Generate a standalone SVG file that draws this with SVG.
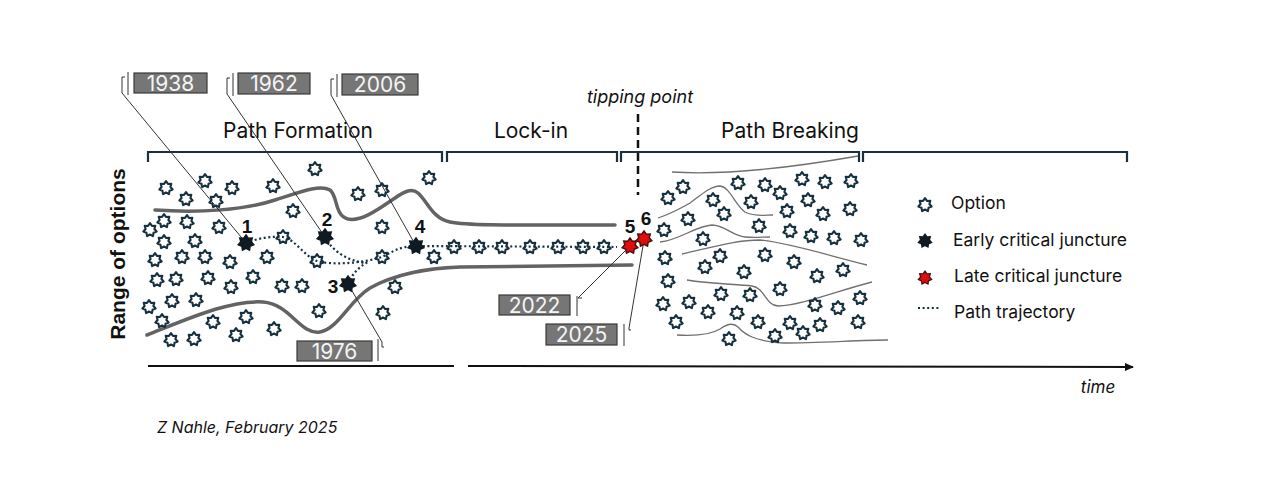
<svg xmlns="http://www.w3.org/2000/svg" xmlns:xlink="http://www.w3.org/1999/xlink" width="1280" height="489" viewBox="0 0 1280 489">
<style>
.opt{fill:none;stroke:#17303f;stroke-width:2.1;stroke-linejoin:round}
.ecj{fill:#0f1a22;stroke:#0f1a22;stroke-width:1.5}
.lcj{fill:#e30c0c;stroke:#4a1010;stroke-width:1.5}
.brk{fill:none;stroke:#1b2f3c;stroke-width:2.2}
.bnd{fill:none;stroke:#636363;stroke-width:3.5;stroke-linecap:round}
.thin{fill:none;stroke:#707070;stroke-width:1.3}
.traj{fill:none;stroke:#17303f;stroke-width:2.2;stroke-dasharray:2 2.6}
.lead{fill:none;stroke:#333;stroke-width:1}
.ybox{fill:#767676;stroke:#3a3a3a;stroke-width:1.2}
.ytxt{font-family:Inter,"Liberation Sans",sans-serif;font-size:21px;fill:#f4f4f4;text-anchor:middle}
.sec{font-family:Inter,"Liberation Sans",sans-serif;font-size:21px;fill:#111;text-anchor:middle}
.num{font-family:"Liberation Sans",Arial,sans-serif;font-weight:bold;font-size:19px;fill:#111;text-anchor:middle}
.leg{font-family:Inter,"Liberation Sans",sans-serif;font-size:17.5px;fill:#111}
.it{font-family:Inter,"Liberation Sans",sans-serif;font-style:italic;fill:#111}
</style>
<defs>
<path id="star" d="M0,-6.8 L1.95,-4.05 L5.3,-4.25 L4.4,-1 L6.65,1.5 L3.5,2.8 L2.95,6.1 L0,4.5 L-2.95,6.1 L-3.5,2.8 L-6.65,1.5 L-4.4,-1 L-5.3,-4.25 L-1.95,-4.05 Z"/>
<path id="bigstar" d="M0,-8 L2.3,-4.8 L6.25,-5 L5.2,-1.2 L7.8,1.8 L4.1,3.3 L3.5,7.2 L0,5.3 L-3.5,7.2 L-4.1,3.3 L-7.8,1.8 L-5.2,-1.2 L-6.25,-5 L-2.3,-4.8 Z"/>
<marker id="arr" markerWidth="10" markerHeight="10" refX="8" refY="5" orient="auto" markerUnits="userSpaceOnUse">
<path d="M0,1 L9,5 L0,9 Z" fill="#111"/>
</marker>
</defs>

<!-- section headers and brackets -->
<g id="headers">
<text class="sec" x="298" y="138">Path Formation</text>
<text class="sec" x="531" y="138">Lock-in</text>
<text class="sec" x="790" y="138">Path Breaking</text>
<text class="it" x="640" y="103" font-size="18" text-anchor="middle">tipping point</text>
<path class="brk" d="M148,162 V152 H442 V162"/>
<path class="brk" d="M447,162 V152 H617 V162"/>
<path class="brk" d="M621,162 V152 H859 V162"/>
<path class="brk" d="M863,162 V152 H1127 V162"/>
<line x1="638" y1="114" x2="638" y2="195" stroke="#111" stroke-width="2.5" stroke-dasharray="8 5"/>
</g>

<g id="axis">
<text x="125" y="254" transform="rotate(-90 125 254)" font-family="Liberation Sans,Arial,sans-serif" font-weight="bold" font-size="21" text-anchor="middle" fill="#111">Range of options</text>
<line x1="148" y1="366" x2="454" y2="366" stroke="#111" stroke-width="2"/>
<line x1="468" y1="366" x2="1133" y2="367" stroke="#111" stroke-width="2" marker-end="url(#arr)"/>
<text class="it" x="1098" y="393" font-size="17" text-anchor="middle">time</text>
<text class="it" x="157" y="433" font-size="16">Z Nahle, February 2025</text>
</g>

<!-- boundaries -->
<g id="boundaries">
<path class="bnd" d="M155,210 C200,213 245,210 275,200 C300,192 320,184 330,190 C338,196 334,215 348,219 C362,222 380,208 395,198 C405,191 412,188 418,193 C428,202 432,218 450,222 C470,226 520,225 615,225"/>
<path class="bnd" d="M147,335 C190,318 230,300 263,302 C290,304 300,335 320,332 C338,329 350,300 370,288 C395,274 430,268 460,267 L632,265"/>
<path class="thin" d="M672,172 C720,175 790,168 858,156"/>
<path class="thin" d="M658,218 C670,214 678,210 690,203 C700,196 710,186 720,186 C730,187 735,205 745,212 C755,217 765,215 773,215"/>
<path class="thin" d="M660,242 C680,240 695,226 712,225 C725,225 732,236 745,237 C755,238 762,237 770,237"/>
<path class="thin" d="M682,254 C710,248 735,240 760,240 C790,243 830,256 867,265"/>
<path class="thin" d="M687,280 C710,284 735,284 752,286 C765,288 765,305 778,306 C800,306 840,290 872,282"/>
<path class="thin" d="M677,335 C695,336 712,334 720,329 C727,324 733,322 738,327 C745,335 755,341 783,343 C820,343 860,340 888,340"/>
</g>

<!-- trajectory -->
<g id="connectors">
<path class="traj" d="M246,243 C258,238 272,236 283,237 C296,240 304,256 317,261 C330,265 360,264 382,257 C392,252 400,246 416,246 L617,247"/>
<path class="traj" d="M325,237 C333,252 348,261 366,263"/>
<path class="traj" d="M348,284 C352,275 357,268 368,262"/>
<path class="lead" d="M122,93 L246,243"/>
<path class="lead" d="M227,94 L325,237"/>
<path class="lead" d="M331,95 L416,246"/>
<path class="lead" d="M348,284 L382,342"/>
<path class="lead" d="M578,298 L630,246"/>
<path class="lead" d="M629,328 L644,240"/>
</g>

<!-- year callouts -->
<g id="y1938"><path class="lead" d="M122,93 V77 H125 M128,72 V95"/><rect class="ybox" x="134" y="73" width="73" height="20"/><text class="ytxt" x="170.5" y="90.5">1938</text></g>
<g id="y1962"><path class="lead" d="M227,94 V78 H230 M233,73 V96"/><rect class="ybox" x="238" y="73" width="72" height="21"/><text class="ytxt" x="274" y="91">1962</text></g>
<g id="y2006"><path class="lead" d="M331,95 V79 H334 M337,74 V97"/><rect class="ybox" x="342" y="74" width="76" height="21"/><text class="ytxt" x="380" y="92">2006</text></g>
<g id="y1976"><path class="lead" d="M382,342 V347 H384 M378,339 V361"/><rect class="ybox" x="297" y="341" width="75" height="20"/><text class="ytxt" x="334.5" y="358.5">1976</text></g>
<g id="y2022"><path class="lead" d="M578,298 H582 M577,296 V316"/><rect class="ybox" x="499" y="295" width="71" height="20"/><text class="ytxt" x="534.5" y="312.5">2022</text></g>
<g id="y2025"><path class="lead" d="M629,328 V330 H631 M624,324 V346"/><rect class="ybox" x="546" y="324" width="71" height="21"/><text class="ytxt" x="581.5" y="342">2025</text></g>

<!-- options -->
<g id="options">
<use href="#star" class="opt" x="315" y="169"/><use href="#star" class="opt" x="205" y="181"/><use href="#star" class="opt" x="166" y="188"/><use href="#star" class="opt" x="232" y="188"/><use href="#star" class="opt" x="273" y="186"/><use href="#star" class="opt" x="186" y="199"/><use href="#star" class="opt" x="216" y="201"/><use href="#star" class="opt" x="429" y="178"/><use href="#star" class="opt" x="358" y="194"/><use href="#star" class="opt" x="382" y="190"/><use href="#star" class="opt" x="293" y="211"/><use href="#star" class="opt" x="164" y="221"/><use href="#star" class="opt" x="187" y="222"/><use href="#star" class="opt" x="150" y="230"/><use href="#star" class="opt" x="219" y="227"/><use href="#star" class="opt" x="382" y="227"/><use href="#star" class="opt" x="164" y="242"/><use href="#star" class="opt" x="195" y="241"/><use href="#star" class="opt" x="283" y="237"/><use href="#star" class="opt" x="182" y="257"/><use href="#star" class="opt" x="205" y="257"/><use href="#star" class="opt" x="155" y="260"/><use href="#star" class="opt" x="230" y="262"/><use href="#star" class="opt" x="267" y="257"/><use href="#star" class="opt" x="317" y="261"/><use href="#star" class="opt" x="382" y="257"/><use href="#star" class="opt" x="434" y="257"/><use href="#star" class="opt" x="157" y="280"/><use href="#star" class="opt" x="176" y="279"/><use href="#star" class="opt" x="208" y="278"/><use href="#star" class="opt" x="253" y="277"/><use href="#star" class="opt" x="231" y="287"/><use href="#star" class="opt" x="282" y="286"/><use href="#star" class="opt" x="302" y="286"/><use href="#star" class="opt" x="395" y="287"/><use href="#star" class="opt" x="172" y="301"/><use href="#star" class="opt" x="196" y="300"/><use href="#star" class="opt" x="149" y="307"/><use href="#star" class="opt" x="162" y="321"/><use href="#star" class="opt" x="213" y="322"/><use href="#star" class="opt" x="246" y="317"/><use href="#star" class="opt" x="319" y="311"/><use href="#star" class="opt" x="383" y="313"/><use href="#star" class="opt" x="274" y="329"/><use href="#star" class="opt" x="171" y="340"/><use href="#star" class="opt" x="194" y="339"/><use href="#star" class="opt" x="236" y="335"/>
<use href="#star" class="opt" x="454" y="247"/><use href="#star" class="opt" x="479" y="247"/><use href="#star" class="opt" x="502" y="247"/><use href="#star" class="opt" x="530" y="247"/><use href="#star" class="opt" x="558" y="247"/><use href="#star" class="opt" x="583" y="247"/><use href="#star" class="opt" x="604" y="247"/>
<use href="#star" class="opt" x="683" y="187"/><use href="#star" class="opt" x="668" y="198"/><use href="#star" class="opt" x="738" y="183"/><use href="#star" class="opt" x="765" y="185"/><use href="#star" class="opt" x="780" y="193"/><use href="#star" class="opt" x="802" y="179"/><use href="#star" class="opt" x="825" y="182"/><use href="#star" class="opt" x="851" y="181"/><use href="#star" class="opt" x="713" y="200"/><use href="#star" class="opt" x="751" y="202"/><use href="#star" class="opt" x="808" y="200"/><use href="#star" class="opt" x="688" y="219"/><use href="#star" class="opt" x="724" y="214"/><use href="#star" class="opt" x="787" y="211"/><use href="#star" class="opt" x="823" y="214"/><use href="#star" class="opt" x="850" y="209"/><use href="#star" class="opt" x="664" y="230"/><use href="#star" class="opt" x="759" y="226"/><use href="#star" class="opt" x="790" y="231"/><use href="#star" class="opt" x="811" y="236"/><use href="#star" class="opt" x="834" y="238"/><use href="#star" class="opt" x="861" y="240"/><use href="#star" class="opt" x="703" y="239"/><use href="#star" class="opt" x="665" y="258"/><use href="#star" class="opt" x="720" y="256"/><use href="#star" class="opt" x="765" y="255"/><use href="#star" class="opt" x="794" y="262"/><use href="#star" class="opt" x="705" y="267"/><use href="#star" class="opt" x="744" y="272"/><use href="#star" class="opt" x="843" y="270"/><use href="#star" class="opt" x="817" y="276"/><use href="#star" class="opt" x="668" y="281"/><use href="#star" class="opt" x="780" y="289"/><use href="#star" class="opt" x="721" y="294"/><use href="#star" class="opt" x="750" y="295"/><use href="#star" class="opt" x="663" y="304"/><use href="#star" class="opt" x="689" y="302"/><use href="#star" class="opt" x="815" y="305"/><use href="#star" class="opt" x="838" y="308"/><use href="#star" class="opt" x="860" y="298"/><use href="#star" class="opt" x="708" y="312"/><use href="#star" class="opt" x="737" y="313"/><use href="#star" class="opt" x="676" y="322"/><use href="#star" class="opt" x="758" y="322"/><use href="#star" class="opt" x="790" y="323"/><use href="#star" class="opt" x="820" y="325"/><use href="#star" class="opt" x="858" y="322"/><use href="#star" class="opt" x="775" y="336"/><use href="#star" class="opt" x="803" y="333"/><use href="#star" class="opt" x="729" y="339"/>
</g>

<!-- critical junctures -->
<g id="cj1"><use href="#bigstar" class="ecj" x="246" y="243"/><text class="num" x="247" y="233">1</text></g>
<g id="cj2"><use href="#bigstar" class="ecj" x="325" y="237"/><text class="num" x="327" y="226">2</text></g>
<g id="cj3"><use href="#bigstar" class="ecj" x="348" y="284"/><text class="num" x="333" y="293">3</text></g>
<g id="cj4"><use href="#bigstar" class="ecj" x="416" y="246"/><text class="num" x="420" y="233">4</text></g>
<g id="cj5"><use href="#bigstar" class="lcj" x="630" y="246"/><text class="num" x="630" y="233">5</text></g>
<g id="cj6"><use href="#bigstar" class="lcj" x="644" y="239"/><text class="num" x="646" y="225">6</text></g>

<!-- legend -->
<g id="legend">
<use href="#star" class="opt" x="925" y="205"/><text class="leg" x="951" y="209">Option</text>
<use href="#bigstar" class="ecj" x="925" y="241" transform="translate(925 241) scale(0.85) translate(-925 -241)"/><text class="leg" x="953" y="246">Early critical juncture</text>
<use href="#bigstar" class="lcj" x="925" y="278" transform="translate(925 278) scale(0.85) translate(-925 -278)"/><text class="leg" x="954" y="282">Late critical juncture</text>
<line class="traj" x1="918" y1="308" x2="940" y2="308" stroke-width="1.5"/><text class="leg" x="954" y="318">Path trajectory</text>
</g>
</svg>
